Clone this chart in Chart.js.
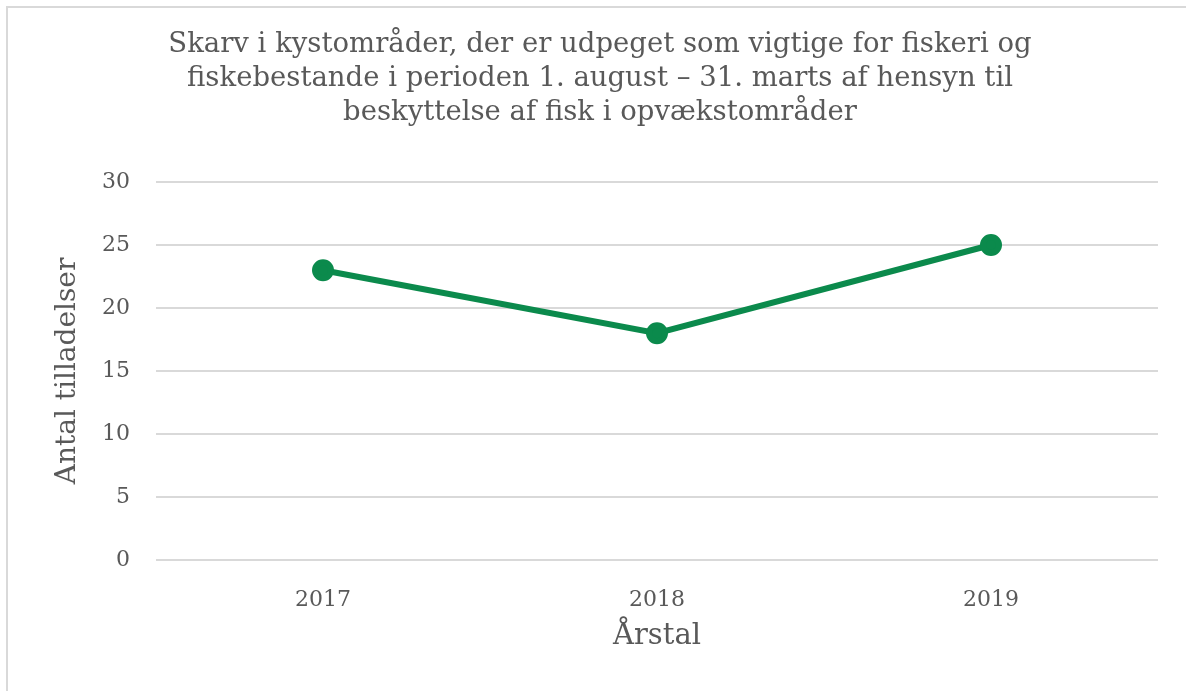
<!DOCTYPE html>
<html lang="da">
<head>
<meta charset="UTF-8">
<script src="https://cdn.jsdelivr.net/npm/chart.js@4.4.0/dist/chart.umd.min.js"></script>
<title>Skarv i kystområder</title>
<style>
  html, body { margin: 0; padding: 0; background: #fff; }
  #wrap { position: relative; width: 1186px; height: 691px; }
</style>
</head>
<body>
<div id="wrap"><canvas id="graph" width="1186" height="691"></canvas></div>
<script>
const years = ['2017', '2018', '2019'];
const permits = [23, 18, 25];
const titleLines = [
  'Skarv i kystområder, der er udpeget som vigtige for fiskeri og',
  'fiskebestande i perioden 1. august – 31. marts af hensyn til',
  'beskyttelse af fisk i opvækstområder'
];

const textColor = '#595959';
const gridColor = '#d9d9d9';
const serif = "'DejaVu Serif', 'Liberation Serif', serif";

// thin frame at top and left like the original crop
const framePlugin = {
  id: 'frame',
  beforeDraw(chart) {
    const c = chart.ctx;
    c.save();
    c.strokeStyle = '#d9d9d9';
    c.lineWidth = 2;
    c.beginPath();
    c.moveTo(7, 691);
    c.lineTo(7, 7);
    c.lineTo(1186, 7);
    c.stroke();
    c.restore();
  }
};

new Chart(document.getElementById('graph'), {
  type: 'line',
  data: {
    labels: years,
    datasets: [{
      label: 'Antal tilladelser',
      data: permits,
      borderColor: '#0b8a4c',
      backgroundColor: '#0b8a4c',
      borderWidth: 6,
      pointRadius: 8,
      pointHoverRadius: 8,
      tension: 0,
      fill: false
    }]
  },
  options: {
    responsive: false,
    animation: false,
    layout: { padding: { top: 0, right: 28, bottom: 0, left: 42 } },
    plugins: {
      legend: { display: false },
      tooltip: { enabled: false },
      title: {
        display: true,
        text: titleLines,
        color: textColor,
        font: { family: serif, size: 27.5, weight: 'normal', lineHeight: '34px' },
        padding: { top: 28, bottom: 52 }
      }
    },
    scales: {
      x: {
        offset: true,
        grid: { display: false, drawTicks: false },
        border: { display: false },
        ticks: { color: textColor, font: { family: serif, size: 22 }, padding: 27 },
        title: {
          display: true,
          text: 'Årstal',
          color: textColor,
          font: { family: serif, size: 29 },
          padding: { top: 0, bottom: 37 }
        },
        afterFit(s) { s.height = 131; }
      },
      y: {
        min: 0,
        max: 30,
        ticks: { stepSize: 5, color: textColor, font: { family: serif, size: 22 }, padding: 26 },
        grid: { color: gridColor, lineWidth: 2, drawTicks: false },
        border: { display: false },
        title: {
          display: true,
          text: 'Antal tilladelser',
          color: textColor,
          font: { family: serif, size: 28 },
          padding: { top: 9, bottom: 0 }
        },
        afterFit(s) { s.width = 114; }
      }
    }
  },
  plugins: [framePlugin]
});
</script>
</body>
</html>
